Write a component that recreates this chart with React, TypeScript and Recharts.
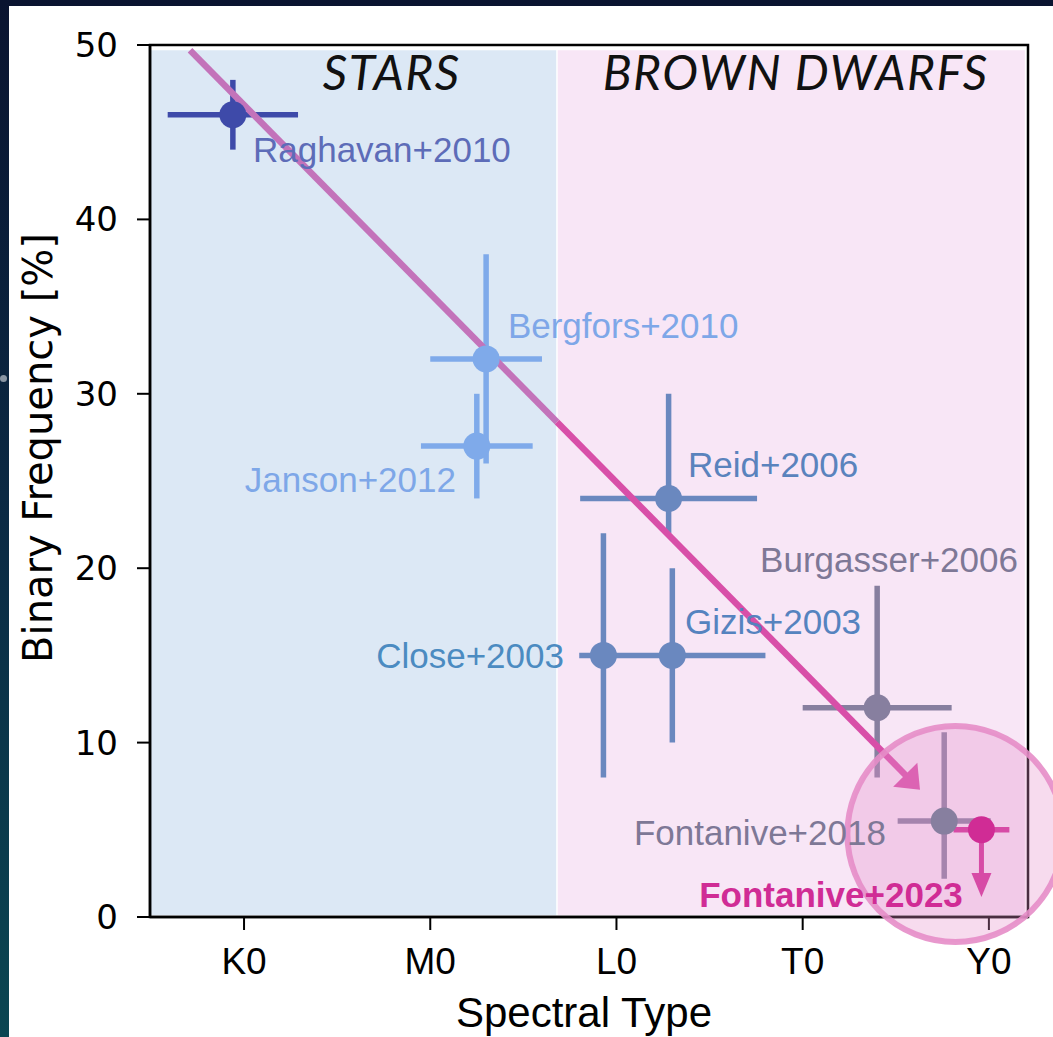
import React from 'react';
import {
  ScatterChart,
  Scatter,
  XAxis,
  YAxis,
  ErrorBar,
  ReferenceArea,
  ReferenceLine,
  ReferenceDot,
} from 'recharts';

// Axis ticks
const SPECTRAL_TICKS = [0, 1, 2, 3, 4];
const SPECTRAL_TICK_LABELS = ['K0', 'M0', 'L0', 'T0', 'Y0'];
const FREQ_TICKS = [0, 10, 20, 30, 40, 50];

// Surveys: spectral type (K0 = 0, M0 = 1, L0 = 2, T0 = 3, Y0 = 4) and binary frequency in %
const SURVEYS = [
  'Raghavan+2010',
  'Bergfors+2010',
  'Janson+2012',
  'Reid+2006',
  'Close+2003',
  'Gizis+2003',
  'Burgasser+2006',
  'Fontanive+2018',
  'Fontanive+2023',
];
const SPT = [-0.06, 1.3, 1.25, 2.28, 1.93, 2.3, 3.4, 3.76, 3.96];
const FREQ = [46, 32, 27, 24, 15, 15, 12, 5.5, 5];
const SPT_ERR = [0.35, 0.3, 0.3, 0.475, 0, 0.5, 0.4, 0.25, 0.15];
const FREQ_ERR_LOW = [2, 6, 3, 2, 7, 5, 4, 3.3, 0];
const FREQ_ERR_HIGH = [2, 6, 3, 6, 7, 5, 7, 5.1, 0];

// Fontanive+2023 is an upper limit: arrow drawn down to this frequency
const UPPER_LIMIT_SPT = 3.96;
const UPPER_LIMIT_FROM = 5;
const UPPER_LIMIT_TO = 1.15;

// Trend arrow across the sequence
const TREND_START = { x: -0.29, y: 49.7 };
const TREND_END = { x: 3.63, y: 7.3 };

// Stars / brown dwarfs boundary
const SPT_MIN = -0.505;
const SPT_MAX = 4.21;
const STAR_BD_BOUNDARY = 1.6805;
const SHADE_TOP = 49.7;
const SHADE_RIGHT = 4.193;

// Highlight around the newest measurement
const HIGHLIGHT = { x: 3.82, y: 4.76 };

// Text annotations placed in data coordinates
const ANNOTATIONS = [
  'STARS',
  'BROWN DWARFS',
  ...SURVEYS,
];
const ANNOT_X = [0.789, 2.958, 0.048, 1.417, 1.138, 2.384, 1.718, 2.368, 4.156, 3.447, 3.86];
const ANNOT_Y = [47.42, 47.42, 43.29, 33.2, 24.37, 25.23, 14.28, 16.23, 19.78, 4.13, 0.57];

const SURVEY_COLORS: Record<string, string> = {
  'Raghavan+2010': '#3e4aa9',
  'Bergfors+2010': '#7faaea',
  'Janson+2012': '#7faaea',
  'Reid+2006': '#6a88bf',
  'Close+2003': '#6a88bf',
  'Gizis+2003': '#6a88bf',
  'Burgasser+2006': '#877f9f',
  'Fontanive+2018': '#877f9f',
  'Fontanive+2023': '#d02c95',
};

const LABEL_STYLES: Record<string, { fill: string; anchor: 'start' | 'middle' | 'end'; font?: string; size?: number; italic?: boolean; bold?: boolean; spacing?: number; weight?: number }> = {
  STARS: { fill: '#111', anchor: 'middle', font: 'Lato', size: 48, italic: true, spacing: 1.5 },
  'BROWN DWARFS': { fill: '#111', anchor: 'middle', font: 'Lato', size: 48, italic: true, spacing: 1.5 },
  'Raghavan+2010': { fill: '#5d6cb8', anchor: 'start' },
  'Bergfors+2010': { fill: '#7ea7e8', anchor: 'start' },
  'Janson+2012': { fill: '#7ea7e8', anchor: 'end' },
  'Reid+2006': { fill: '#5a83bd', anchor: 'start' },
  'Close+2003': { fill: '#4b8bc1', anchor: 'end' },
  'Gizis+2003': { fill: '#5583bf', anchor: 'start' },
  'Burgasser+2006': { fill: '#7e7896', anchor: 'end' },
  'Fontanive+2018': { fill: '#7e7896', anchor: 'end' },
  'Fontanive+2023': { fill: '#d02c95', anchor: 'end', bold: true },
};

const surveyRows = SURVEYS.map((name, i) => ({
  name,
  x: SPT[i],
  y: FREQ[i],
  xerr: SPT_ERR[i],
  yerr: [FREQ_ERR_LOW[i], FREQ_ERR_HIGH[i]],
}));

const annotationRows = ANNOTATIONS.map((text, i) => ({ text, x: ANNOT_X[i], y: ANNOT_Y[i] }));

const trendAtBoundary = {
  x: STAR_BD_BOUNDARY,
  y:
    TREND_START.y +
    ((TREND_END.y - TREND_START.y) * (STAR_BD_BOUNDARY - TREND_START.x)) / (TREND_END.x - TREND_START.x),
};

const SANS = '"Liberation Sans", Arial, Helvetica, sans-serif';
const DEJAVU = '"DejaVu Sans", sans-serif';

const Marker = (props: any) => {
  const { cx, cy, fill } = props;
  if (cx == null || cy == null) return <g />;
  return <circle cx={cx} cy={cy} r={13.5} fill={fill} />;
};

const AnnotationText = (props: any) => {
  const { cx, cy, payload } = props;
  if (cx == null || cy == null || !payload) return <g />;
  const s = LABEL_STYLES[payload.text];
  const spacing = s.spacing ?? 0;
  return (
    <text
      x={s.anchor === 'middle' ? cx + spacing / 2 : cx}
      y={cy}
      textAnchor={s.anchor}
      fill={s.fill}
      fontFamily={s.font ? `"${s.font}", sans-serif` : SANS}
      fontSize={s.size ?? 35}
      fontStyle={s.italic ? 'italic' : 'normal'}
      fontWeight={s.bold ? 700 : s.weight ?? 400}
      letterSpacing={spacing}
    >
      {payload.text}
    </text>
  );
};

// Line segment that optionally ends in a filled arrow head
const arrowShape = (headLength: number, headHalfWidth: number, withHead: boolean, color: string, width: number) =>
  (props: any) => {
    const { x1, y1, x2, y2 } = props;
    if ([x1, y1, x2, y2].some((v) => v == null || Number.isNaN(v))) return <g />;
    if (!withHead) {
      return <line x1={x1} y1={y1} x2={x2} y2={y2} stroke={color} strokeWidth={width} />;
    }
    const dx = x2 - x1;
    const dy = y2 - y1;
    const len = Math.hypot(dx, dy) || 1;
    const ux = dx / len;
    const uy = dy / len;
    const bx = x2 - ux * headLength;
    const by = y2 - uy * headLength;
    const px = -uy * headHalfWidth;
    const py = ux * headHalfWidth;
    return (
      <g>
        <line x1={x1} y1={y1} x2={bx + ux * 2} y2={by + uy * 2} stroke={color} strokeWidth={width} />
        <polygon points={`${x2},${y2} ${bx + px},${by + py} ${bx - px},${by - py}`} fill={color} />
      </g>
    );
  };

export default function App() {
  return (
    <div style={{ position: 'relative', width: 1053, height: 1037, overflow: 'hidden', background: 'linear-gradient(180deg, #0a1430 0%, #0b2a44 50%, #0b4652 100%)' }}>
      <style>{'body{margin:0}'}</style>
      <div style={{ position: 'absolute', left: 9, top: 6, right: 0, bottom: 0, background: '#ffffff' }} />
      <div style={{ position: 'absolute', left: 0, top: 375, width: 7, height: 7, borderRadius: 4, background: '#8a96a4' }} />
      <div style={{ position: 'absolute', left: 0, top: 0 }}>
        <ScatterChart width={1053} height={1037} margin={{ top: 45, right: 25, bottom: 0, left: 0 }}>
          <XAxis
            type="number"
            dataKey="x"
            domain={[SPT_MIN, SPT_MAX]}
            allowDataOverflow
            ticks={SPECTRAL_TICKS}
            interval={0}
            tickFormatter={(v: number) => SPECTRAL_TICK_LABELS[Math.round(v)]}
            height={120}
            tickSize={13}
            tickMargin={18}
            axisLine={{ stroke: '#000', strokeWidth: 2.5 }}
            tickLine={{ stroke: '#000', strokeWidth: 2 }}
            tick={{ fill: '#000', fontSize: 37, fontFamily: SANS }}
          />
          <YAxis
            type="number"
            dataKey="y"
            domain={[0, 50]}
            allowDataOverflow
            ticks={FREQ_TICKS}
            interval={0}
            width={150}
            tickSize={13}
            tickMargin={19}
            axisLine={{ stroke: '#000', strokeWidth: 2.5 }}
            tickLine={{ stroke: '#000', strokeWidth: 2 }}
            tick={{ fill: '#000', fontSize: 34, fontFamily: DEJAVU }}
          />

          {/* region shading */}
          <ReferenceArea x1={SPT_MIN} x2={STAR_BD_BOUNDARY - 0.004} y1={0.1} y2={SHADE_TOP} fill="#dce8f5" fillOpacity={1} stroke="none" ifOverflow="hidden" />
          <ReferenceArea x1={STAR_BD_BOUNDARY + 0.004} x2={SHADE_RIGHT} y1={0.1} y2={SHADE_TOP} fill="#f8e6f6" fillOpacity={1} stroke="none" ifOverflow="hidden" />
          <ReferenceArea x1={SPT_MIN} x2={SPT_MAX} y1={0} y2={50} fill="none" fillOpacity={0} stroke="#000" strokeWidth={2.5} ifOverflow="visible" />

          {/* highlight ring behind the newest measurement */}
          <ReferenceDot
            x={HIGHLIGHT.x}
            y={HIGHLIGHT.y}
            r={108}
            fill="#e58fcb"
            fillOpacity={0.32}
            stroke="#e68dc8"
            strokeOpacity={0.9}
            strokeWidth={6}
            ifOverflow="visible"
          />

          {surveyRows.map((row) => (
            <Scatter
              key={row.name}
              name={row.name}
              data={[row]}
              fill={SURVEY_COLORS[row.name]}
              shape={Marker}
              isAnimationActive={false}
            >
              <ErrorBar dataKey="xerr" direction="x" width={0} stroke={SURVEY_COLORS[row.name]} strokeWidth={5.5} />
              <ErrorBar dataKey="yerr" direction="y" width={0} stroke={SURVEY_COLORS[row.name]} strokeWidth={5.5} />
            </Scatter>
          ))}

          {/* upper limit arrow */}
          <ReferenceLine
            segment={[
              { x: UPPER_LIMIT_SPT, y: UPPER_LIMIT_FROM },
              { x: UPPER_LIMIT_SPT, y: UPPER_LIMIT_TO },
            ]}
            stroke="#d02c95"
            shape={arrowShape(24, 10, true, '#d02c95', 5)}
            ifOverflow="visible"
          />

          {/* declining trend */}
          <ReferenceLine
            segment={[TREND_START, trendAtBoundary]}
            stroke="#c373ba"
            shape={arrowShape(0, 0, false, '#c373ba', 6.5)}
            ifOverflow="visible"
          />
          <ReferenceLine
            segment={[trendAtBoundary, TREND_END]}
            stroke="#d84fa8"
            shape={arrowShape(21, 17, true, '#d84fa8', 6.5)}
            ifOverflow="visible"
          />

          <Scatter name="annotations" data={annotationRows} shape={AnnotationText} isAnimationActive={false} />
        </ScatterChart>
      </div>
      <svg width={1053} height={1037} style={{ position: 'absolute', left: 0, top: 0, pointerEvents: 'none' }}>
        <text x={584} y={1027} textAnchor="middle" fontFamily={SANS} fontSize={42} fill="#000">
          Spectral Type
        </text>
        <text x={52} y={448} textAnchor="middle" fontFamily={DEJAVU} fontSize={40} fill="#000" transform="rotate(-90 52 448)">
          Binary Frequency [%]
        </text>
      </svg>
    </div>
  );
}
